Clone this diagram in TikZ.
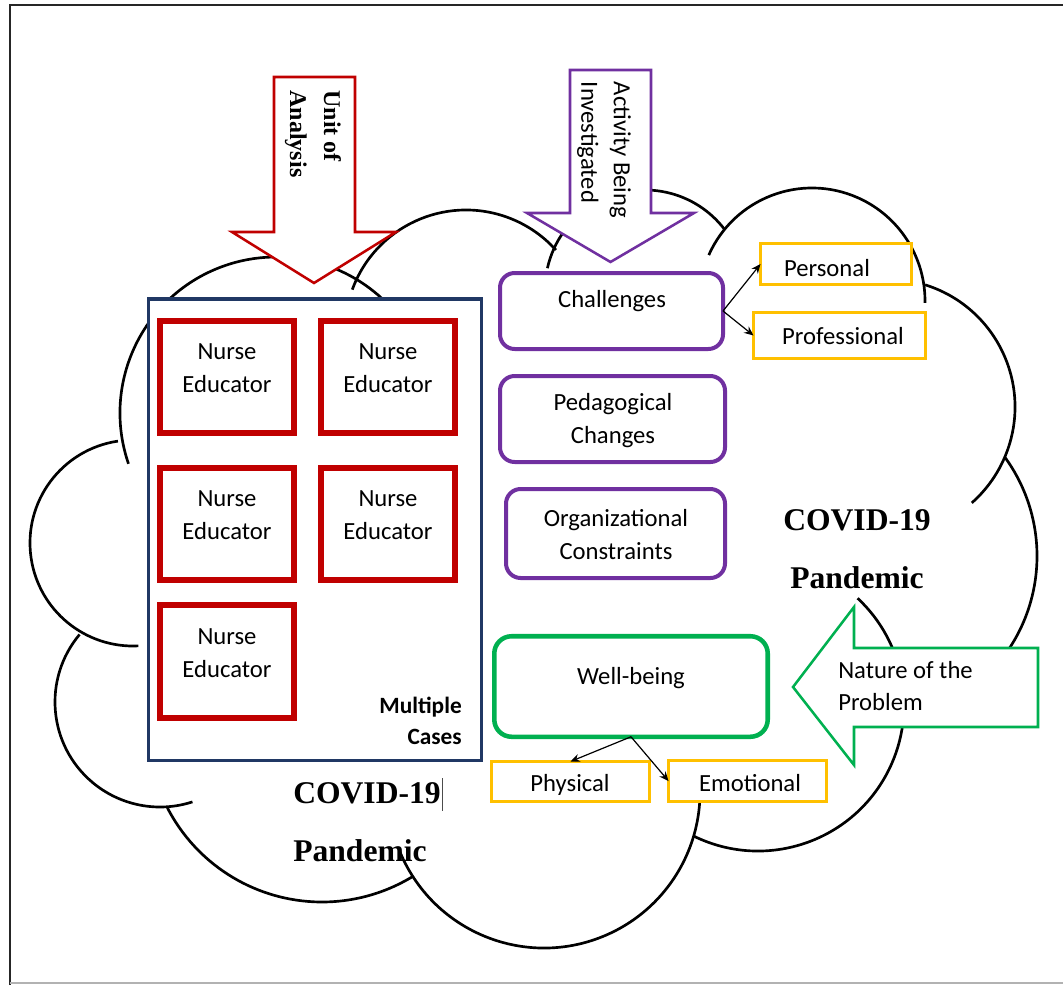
\documentclass[tikz,border=0pt]{standalone}
\usepackage{fontspec}
\setmainfont{Liberation Serif}
\newfontfamily\calib{Carlito}
\usetikzlibrary{arrows.meta}
\definecolor{cred}{HTML}{C00000}
\definecolor{cnavy}{HTML}{203864}
\definecolor{cpurp}{HTML}{7030A0}
\definecolor{cgreen}{HTML}{00B050}
\definecolor{cyell}{HTML}{FFC000}
\newcommand{\cloudarc}[5]{\draw[cloudline] ({#1+#3*cos(#4)},{#2+#3*sin(#4)}) arc[start angle=#4,end angle=#5,radius=#3];}
\begin{document}
\begin{tikzpicture}[x=0.75pt,y=-0.75pt,
  cloudline/.style={line width=2pt,black},
  sans/.style={font=\calib\fontsize{18.5}{24.5}\selectfont,inner sep=0pt},
  sansb/.style={font=\calib\bfseries\fontsize{17.5}{23}\selectfont,inner sep=0pt},
  serifb/.style={font=\rmfamily\bfseries\fontsize{18}{25.5}\selectfont,inner sep=0pt},
  covid/.style={font=\rmfamily\bfseries\fontsize{23.7}{43.5}\selectfont,inner sep=0pt},
  nursebox/.style={draw=cred,line width=4.5pt,fill=white,inner sep=0pt,outer sep=0pt,minimum width=100.5pt,minimum height=84pt},
  purpbox/.style={draw=cpurp,line width=3pt,fill=white,rounded corners=11pt,inner sep=0pt,outer sep=0pt},
  yellbox/.style={draw=cyell,line width=2.2pt,fill=white,inner sep=0pt,outer sep=0pt},
  bigarrow/.style={line width=1.9pt,fill=white,line join=miter},
  conn/.style={line width=0.9pt,-{Stealth[length=7pt,width=6pt]}}
]
\useasboundingbox (0,0) rectangle (1063,985);
% frame
\draw[line width=1.5pt,black!85] (10,985) -- (10,5) -- (1063,5);
\draw[line width=1pt,gray!60] (10,983) -- (1063,983);

% cloud outline
\cloudarc{276}{413}{156}{161}{320}
\cloudarc{133}{543}{103}{261.6}{87}
\cloudarc{160}{702}{105}{220}{72}
\cloudarc{322}{728}{174}{152.7}{58.6}
\cloudarc{544}{792}{156}{158}{-5}
\cloudarc{758}{705}{146}{116}{-47}
\cloudarc{869}{556}{168}{-36}{40}
\cloudarc{887}{407}{128}{-72.7}{48.5}
\cloudarc{812}{301}{113}{204}{361}
\cloudarc{645}{290}{100}{192.6}{323}
\cloudarc{466}{331}{121}{200}{318}

% multiple cases frame
\node[draw=cnavy,line width=2.6pt,fill=white,inner sep=0pt,minimum width=249.4pt,minimum height=346.1pt] (cases) at (315,529.5) {};
\node[nursebox] (n1) at (227,377) {};
\node[nursebox] (n2) at (388,377) {};
\node[nursebox] (n3) at (227,524) {};
\node[nursebox] (n4) at (388,524) {};
\node[nursebox,minimum height=84.75pt] (n5) at (227,661.5) {};
\node[sans,align=center] (n1t) at (227,368) {Nurse\\Educator};
\node[sans,align=center] (n2t) at (388,368) {Nurse\\Educator};
\node[sans,align=center] (n3t) at (227,515) {Nurse\\Educator};
\node[sans,align=center] (n4t) at (388,515) {Nurse\\Educator};
\node[sans,align=center] (n5t) at (227,653) {Nurse\\Educator};
\node[sansb,align=right,anchor=east] (mc) at (462,721) {Multiple\\Cases};

% purple boxes
\node[purpbox,minimum width=167.25pt,minimum height=57pt] (ch) at (611.5,311) {};
\node[purpbox,minimum width=168.75pt,minimum height=64.5pt] (pc) at (612.5,419) {};
\node[purpbox,minimum width=164.25pt,minimum height=66.75pt] (oc) at (615.5,533.5) {};
\node[sans] (cht) at (612,301) {Challenges};
\node[sans,align=center] (pct) at (613,420.5) {Pedagogical\\Changes};
\node[sans,align=center] (oct) at (616,534.5) {Organizational\\Constraints};

% well-being
\node[draw=cgreen,line width=3.4pt,fill=white,rounded corners=13pt,inner sep=0pt,outer sep=0pt,minimum width=205.1pt,minimum height=75.4pt] (wb) at (631,686.5) {};
\node[sans] (wbt) at (631,678) {Well-being};

% yellow boxes
\node[yellbox,minimum width=113.25pt,minimum height=30.75pt] (pers) at (836,264) {};
\node[yellbox,minimum width=129pt,minimum height=34.5pt] (prof) at (839.5,335.5) {};
\node[yellbox,minimum width=118.5pt,minimum height=30pt] (phys) at (570.5,781.5) {};
\node[yellbox,minimum width=118.5pt,minimum height=30.75pt] (emot) at (747.5,781) {};
\node[sans] (perst) at (827,268) {Personal};
\node[sans] (proft) at (843,336) {Professional};
\node[sans] (physt) at (570,785) {Physical};
\node[sans] (emott) at (750,783) {Emotional};

% connectors
\draw[conn] (ch.east) -- (pers.west);
\draw[conn] (ch.east) -- (prof.west);
\draw[conn] (wb.south) -- (phys.north);
\draw[conn] (wb.south) -- (emot.west);

% big arrows
\draw[bigarrow,draw=cred] (274,77) -- (355,77) -- (355,232) -- (396,232) -- (314,283) -- (232,232) -- (274,232) -- cycle;
\node[serifb,rotate=-90,align=left] (ua) at (313,134) {Unit of\\Analysis};
\draw[bigarrow,draw=cpurp] (570,70) -- (651,70) -- (651,213) -- (694,213) -- (610.5,262) -- (527,213) -- (570,213) -- cycle;
\node[sans,rotate=-90,align=left] (ai) at (604,150) {Activity Being\\Investigated};
\draw[bigarrow,draw=cgreen] (1038,648) -- (854,648) -- (854,607) -- (793,687) -- (854,765) -- (854,727) -- (1038,727) -- cycle;
\node[sans,align=left,anchor=west] (np) at (838,686) {Nature of the\\Problem};

% COVID-19 labels
\node[covid,align=center] (cv1) at (857,549) {COVID-19\\Pandemic};
\node[covid,align=left,anchor=west] (cv2) at (293,822.5) {COVID-19\\Pandemic};
\draw[line width=0.6pt,black!70] (442,778) -- (442,811);
\end{tikzpicture}
\end{document}
